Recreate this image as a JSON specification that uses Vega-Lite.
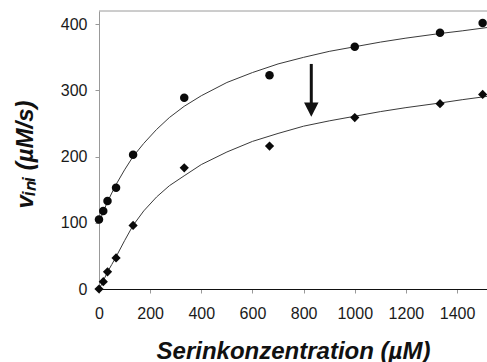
{
  "$schema": "https://vega.github.io/schema/vega-lite/v6.json",
  "autosize": {"type": "none"},
  "padding": {"left": 99, "top": 11, "right": 0, "bottom": 73},
  "width": 388,
  "height": 278,
  "background": "white",
  "config": {
    "view": {"stroke": null},
    "font": "Liberation Sans",
    "axis": {
      "labelFont": "Liberation Sans",
      "labelFontSize": 16,
      "labelColor": "#1a1a1a",
      "titleFont": "Liberation Sans",
      "titleFontSize": 24,
      "titleFontWeight": "bold",
      "titleFontStyle": "italic",
      "titleColor": "#111111",
      "grid": false,
      "tickSize": 4,
      "tickColor": "#999999"
    }
  },
  "datasets": {
    "points": [
      {"series": "A", "x": 0, "y": 105},
      {"series": "A", "x": 16.7, "y": 118},
      {"series": "A", "x": 33.3, "y": 133},
      {"series": "A", "x": 66.7, "y": 153},
      {"series": "A", "x": 133.3, "y": 203},
      {"series": "A", "x": 333.3, "y": 289},
      {"series": "A", "x": 666.7, "y": 323},
      {"series": "A", "x": 1000, "y": 366},
      {"series": "A", "x": 1333.3, "y": 387},
      {"series": "A", "x": 1500, "y": 402},
      {"series": "B", "x": 0, "y": 0},
      {"series": "B", "x": 16.7, "y": 11},
      {"series": "B", "x": 33.3, "y": 26},
      {"series": "B", "x": 66.7, "y": 47},
      {"series": "B", "x": 133.3, "y": 96},
      {"series": "B", "x": 333.3, "y": 183},
      {"series": "B", "x": 666.7, "y": 216},
      {"series": "B", "x": 1000, "y": 259},
      {"series": "B", "x": 1333.3, "y": 280},
      {"series": "B", "x": 1500, "y": 294}
    ],
    "curves": [
      {"series": "A", "x": 0, "y": 101},
      {"series": "A", "x": 10, "y": 110},
      {"series": "A", "x": 20, "y": 120},
      {"series": "A", "x": 35, "y": 133},
      {"series": "A", "x": 50, "y": 145},
      {"series": "A", "x": 70, "y": 160},
      {"series": "A", "x": 100, "y": 180},
      {"series": "A", "x": 133, "y": 200},
      {"series": "A", "x": 175, "y": 220},
      {"series": "A", "x": 225, "y": 241},
      {"series": "A", "x": 275, "y": 259},
      {"series": "A", "x": 333, "y": 276},
      {"series": "A", "x": 400, "y": 292},
      {"series": "A", "x": 500, "y": 312},
      {"series": "A", "x": 600, "y": 327},
      {"series": "A", "x": 700, "y": 340},
      {"series": "A", "x": 800, "y": 350},
      {"series": "A", "x": 900, "y": 359},
      {"series": "A", "x": 1000, "y": 366},
      {"series": "A", "x": 1100, "y": 373},
      {"series": "A", "x": 1200, "y": 379},
      {"series": "A", "x": 1333, "y": 386},
      {"series": "A", "x": 1420, "y": 390},
      {"series": "A", "x": 1517, "y": 395},
      {"series": "B", "x": 0, "y": 0},
      {"series": "B", "x": 10, "y": 7},
      {"series": "B", "x": 20, "y": 15},
      {"series": "B", "x": 35, "y": 27},
      {"series": "B", "x": 50, "y": 37},
      {"series": "B", "x": 70, "y": 51},
      {"series": "B", "x": 100, "y": 73},
      {"series": "B", "x": 133, "y": 96},
      {"series": "B", "x": 175, "y": 118},
      {"series": "B", "x": 225, "y": 139},
      {"series": "B", "x": 275, "y": 156},
      {"series": "B", "x": 333, "y": 171},
      {"series": "B", "x": 400, "y": 188},
      {"series": "B", "x": 500, "y": 207},
      {"series": "B", "x": 600, "y": 223},
      {"series": "B", "x": 700, "y": 235},
      {"series": "B", "x": 800, "y": 246},
      {"series": "B", "x": 900, "y": 254},
      {"series": "B", "x": 1000, "y": 261},
      {"series": "B", "x": 1100, "y": 268},
      {"series": "B", "x": 1200, "y": 274},
      {"series": "B", "x": 1333, "y": 281},
      {"series": "B", "x": 1420, "y": 286},
      {"series": "B", "x": 1517, "y": 291}
    ]
  },
  "encoding": {
    "x": {
      "field": "x",
      "type": "quantitative",
      "title": "Serinkonzentration (µM)",
      "scale": {"domain": [0, 1517], "nice": false, "zero": false},
      "axis": {
        "values": [0, 200, 400, 600, 800, 1000, 1200, 1400],
        "format": "d",
        "domainColor": "#111111",
        "labelPadding": 12,
        "labelFlush": false,
        "labelOverlap": false,
        "titleX": 194,
        "titleY": 69,
        "titleAlign": "center",
        "titleBaseline": "alphabetic"
      }
    },
    "y": {
      "field": "y",
      "type": "quantitative",
      "title": "vᵢₙᵢ (µM/s)",
      "scale": {"domain": [0, 420], "nice": false, "zero": false},
      "axis": {
        "values": [0, 100, 200, 300, 400],
        "format": "d",
        "domainColor": "#999999",
        "labelPadding": 8,
        "titleAngle": 270,
        "titleX": -67,
        "titleY": 143,
        "titleAlign": "center",
        "titleBaseline": "alphabetic"
      }
    }
  },
  "layer": [
    {
      "data": {"values": [{"x": 0, "x2": 1517, "y": 420}]},
      "mark": {"type": "rule", "color": "#9a9a9a", "strokeWidth": 1},
      "encoding": {"x2": {"field": "x2"}}
    },
    {
      "data": {"name": "curves"},
      "mark": {"type": "line", "color": "#3a3a3a", "strokeWidth": 1, "clip": true},
      "encoding": {"detail": {"field": "series", "type": "nominal"}}
    },
    {
      "data": {"name": "points"},
      "transform": [{"filter": "datum.series === 'A'"}],
      "mark": {"type": "point", "shape": "circle", "filled": true, "color": "#0a0a0a", "opacity": 1, "size": 72}
    },
    {
      "data": {"name": "points"},
      "transform": [{"filter": "datum.series === 'B'"}],
      "mark": {"type": "point", "shape": "diamond", "filled": true, "color": "#0a0a0a", "opacity": 1, "size": 85}
    },
    {
      "data": {"values": [{"x": 830, "y": 340, "y2": 273}]},
      "mark": {"type": "rule", "color": "#111111", "strokeWidth": 3},
      "encoding": {"y2": {"field": "y2"}}
    },
    {
      "data": {"values": [{"x": 830, "y": 271}]},
      "mark": {"type": "point", "shape": "M-1,-1L1,-1L0,1Z", "filled": true, "color": "#111111", "opacity": 1, "size": 210}
    }
  ]
}
